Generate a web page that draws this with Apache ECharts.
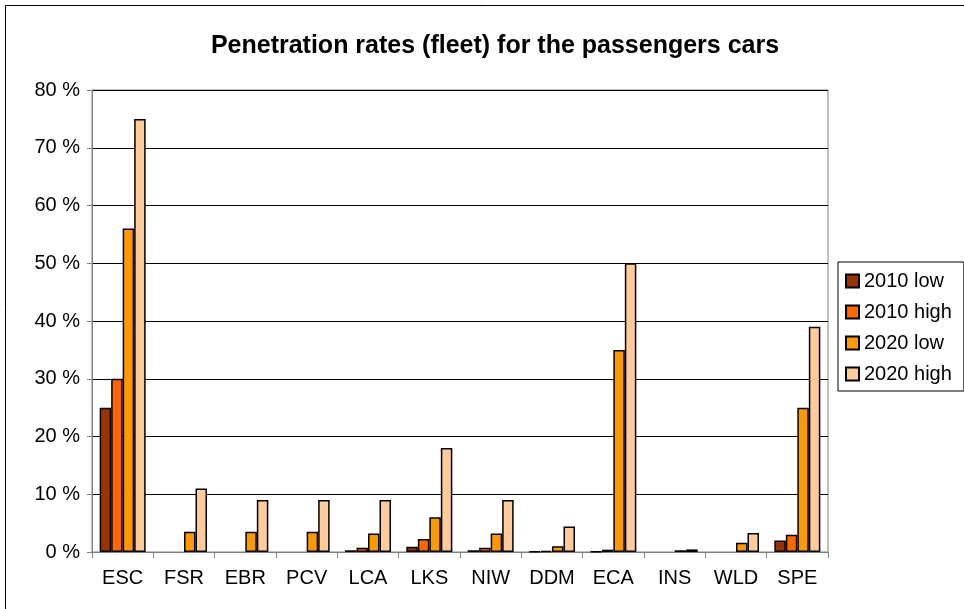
<!DOCTYPE html>
<html>
<head>
<meta charset="utf-8">
<script src="https://cdn.jsdelivr.net/npm/echarts@6/dist/echarts.min.js"></script>
<style>
  html, body { margin: 0; padding: 0; background: #fff; }
  #chart { width: 964px; height: 609px; }
</style>
</head>
<body>
<div id="chart"></div>
<script>
// categories (systems)
const categories = ["ESC", "FSR", "EBR", "PCV", "LCA", "LKS", "NIW", "DDM", "ECA", "INS", "WLD", "SPE"];
// penetration rates in %
const low2010 = [25, 0, 0, 0, 0.3, 0.9, 0.3, 0.1, 0.05, 0, 0, 2.0];
const high2010 = [30, 0, 0, 0, 0.75, 2.25, 0.75, 0.2, 0.4, 0, 0, 3.0];
const low2020 = [56, 3.5, 3.5, 3.5, 3.2, 6, 3.2, 1.0, 35, 0.3, 1.6, 25];
const high2020 = [75, 11, 9, 9, 9, 18, 9, 4.4, 50, 0.45, 3.3, 39];
const seriesNames = ["2010 low", "2010 high", "2020 low", "2020 high"];
const seriesColors = ["#993300", "#FF6600", "#FF9900", "#FFCC99"];

let myChart = echarts.init(document.getElementById("chart"));
let allData = [low2010, high2010, low2020, high2020];

let option = {
  animation: false,
  textStyle: { fontFamily: "Liberation Sans, Arial, sans-serif" },
  title: {
    text: "Penetration rates (fleet) for the passengers cars",
    left: 490,
    textAlign: "center",
    top: 29,
    textStyle: { fontSize: 25, fontWeight: "bold", color: "#000" }
  },
  graphic: [
    {
      type: "rect",
      shape: { x: 5.5, y: 5.5, width: 970, height: 620 },
      style: { fill: "none", stroke: "#000", lineWidth: 1 },
      silent: true
    }
  ],
  legend: {
    orient: "vertical",
    left: 838,
    top: 262,
    padding: [9, 12, 7, 7],
    itemWidth: 13,
    itemHeight: 13,
    itemGap: 11,
    borderColor: "#000",
    borderWidth: 1,
    icon: "rect",
    textStyle: { fontSize: 20, color: "#000" },
    data: seriesNames
  },
  grid: {
    left: 92,
    top: 90,
    width: 736,
    height: 462,
    show: true,
    borderColor: "#808080",
    borderWidth: 1
  },
  xAxis: {
    type: "category",
    data: categories,
    axisLine: { lineStyle: { color: "#808080" } },
    axisTick: { show: true, length: 6, lineStyle: { color: "#808080" } },
    axisLabel: { color: "#000", fontSize: 20, margin: 16 }
  },
  yAxis: {
    type: "value",
    min: 0,
    max: 80,
    interval: 10,
    axisLine: { show: true, lineStyle: { color: "#808080" } },
    axisTick: { show: true, length: 5, lineStyle: { color: "#808080" } },
    axisLabel: { color: "#000", fontSize: 20, margin: 12, formatter: "{value} %" },
    splitLine: { lineStyle: { color: "#000", width: 1 } }
  },
  series: seriesNames.map((name, i) => ({
    name: name,
    type: "bar",
    // zero values draw no bar at all
    data: allData[i].map(v => (v === 0 ? "-" : v)),
    barGap: "0%",
    barCategoryGap: "25%",
    itemStyle: { color: seriesColors[i], borderColor: "#000", borderWidth: 1.5 }
  }))
};
myChart.setOption(option);
</script>
</body>
</html>
